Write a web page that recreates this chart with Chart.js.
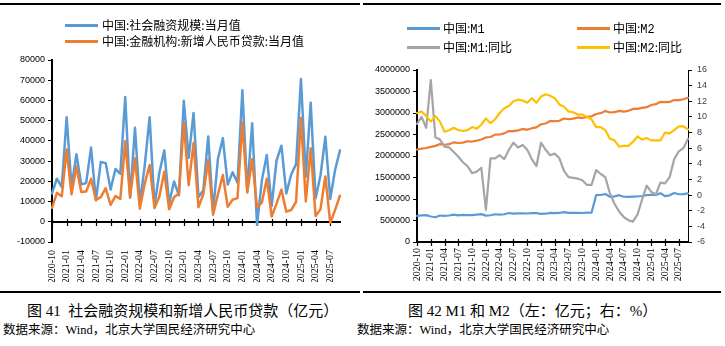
<!DOCTYPE html>
<html><head><meta charset="utf-8">
<script src="https://cdn.jsdelivr.net/npm/chart.js@4.4.1/dist/chart.umd.min.js"></script>
<style>
html,body{margin:0;padding:0;background:#fff;}
#wrap{position:relative;width:725px;height:346px;overflow:hidden;background:#fff;}
.hline{position:absolute;background:#000;}
.leg{position:absolute;font-family:"Noto Sans CJK SC",sans-serif;font-size:12px;line-height:16px;color:#000;white-space:nowrap;}
.mono{font-family:"Liberation Mono","Noto Sans CJK SC",monospace;}
.sw{position:absolute;height:3px;width:33px;}
.cap{position:absolute;font-family:"Liberation Serif","Noto Sans CJK SC",serif;font-size:15px;line-height:20px;white-space:pre;color:#000;}
.src{position:absolute;font-family:"Liberation Serif","Noto Sans CJK SC",serif;font-size:12.5px;line-height:16px;white-space:pre;color:#000;}
.box{position:absolute;top:0;height:290px;}
</style></head>
<body>
<div id="wrap">
  <div class="hline" style="left:0;top:3px;width:360px;height:2px"></div>
  <div class="hline" style="left:363px;top:3px;width:358px;height:2px"></div>

  <div class="box" style="left:0;width:360px"><canvas id="c1" width="360" height="290"></canvas></div>
  <div class="box" style="left:360px;width:365px"><canvas id="c2" width="365" height="290"></canvas></div>

  <div class="sw" style="left:65px;top:24px;background:#5B9BD5"></div>
  <div class="leg" style="left:102px;top:17px">中国:社会融资规模:当月值</div>
  <div class="sw" style="left:65px;top:40px;background:#ED7D31"></div>
  <div class="leg" style="left:102px;top:33px">中国:金融机构:新增人民币贷款:当月值</div>

  <div class="sw" style="left:407px;top:27px;background:#5B9BD5"></div>
  <div class="leg" style="left:443px;top:20px">中国:<span class="mono">M1</span></div>
  <div class="sw" style="left:577px;top:27px;background:#ED7D31"></div>
  <div class="leg" style="left:613px;top:20px">中国:<span class="mono">M2</span></div>
  <div class="sw" style="left:407px;top:46px;background:#A5A5A5"></div>
  <div class="leg" style="left:443px;top:39px">中国:<span class="mono">M1</span>:同比</div>
  <div class="sw" style="left:577px;top:46px;background:#FFC000"></div>
  <div class="leg" style="left:613px;top:39px">中国:<span class="mono">M2</span>:同比</div>

  <div class="hline" style="left:0;top:291px;width:360px;height:2px"></div>
  <div class="hline" style="left:363px;top:291px;width:358px;height:2px"></div>

  <div class="cap" style="left:27px;top:301px">图 41  社会融资规模和新增人民币贷款（亿元）</div>
  <div class="cap" style="left:408px;top:301px">图 42 M1 和 M2（左：亿元；右：%）</div>
  <div class="src" style="left:3px;top:322px">数据来源：Wind，北京大学国民经济研究中心</div>
  <div class="src" style="left:357px;top:322px">数据来源：Wind，北京大学国民经济研究中心</div>
</div>
<script>
const months = [
  '2020-10','2020-11','2020-12',
  '2021-01','2021-02','2021-03','2021-04','2021-05','2021-06','2021-07','2021-08','2021-09','2021-10','2021-11','2021-12',
  '2022-01','2022-02','2022-03','2022-04','2022-05','2022-06','2022-07','2022-08','2022-09','2022-10','2022-11','2022-12',
  '2023-01','2023-02','2023-03','2023-04','2023-05','2023-06','2023-07','2023-08','2023-09','2023-10','2023-11','2023-12',
  '2024-01','2024-02','2024-03','2024-04','2024-05','2024-06','2024-07','2024-08','2024-09','2024-10','2024-11','2024-12',
  '2025-01','2025-02','2025-03','2025-04','2025-05','2025-06','2025-07','2025-08','2025-09'
];
// 社会融资规模:当月值（亿元）
const tsf = [
  14000, 21300, 17200,
  51700, 17100, 33400, 18500, 19200, 36700, 10600, 29600, 29000, 15900, 26100, 23700,
  61700, 11900, 46500, 9100, 27900, 51700, 8000, 24300, 35300, 9100, 19900, 13100,
  59800, 31600, 53800, 12200, 15600, 42200, 5000, 31200, 41300, 18400, 24500, 19300,
  65000, 15200, 48700, -1500, 20600, 33000, 7700, 30300, 37600, 14000, 23400, 28500,
  70600, 22300, 58900, 11600, 22900, 42000, 11300, 25700, 35300
];
// 金融机构:新增人民币贷款:当月值（亿元）
const loans = [
  6900, 14300, 12600,
  35800, 13600, 27300, 14700, 15000, 21200, 10800, 12200, 16600, 8300, 12700, 11300,
  39800, 12300, 31300, 6500, 18900, 28100, 6800, 12500, 24700, 6200, 12100, 14000,
  49000, 18100, 38900, 7200, 13600, 30500, 3500, 13600, 23100, 7400, 10900, 11700,
  49200, 14500, 30900, 7300, 9500, 21300, 2600, 9000, 15900, 5000, 5800, 9900,
  51300, 10100, 36400, 2800, 6200, 22400, -500, 5900, 12900
];
// M1（亿元）
const m1 = [
  609400, 618900, 625600,
  593200, 575600, 616200, 605400, 616800, 637500, 620200, 628600, 624600, 626100, 637100, 647400,
  613100, 621700, 645100, 636100, 645200, 674700, 661800, 664500, 664500, 662300, 672500, 671700,
  655400, 657900, 678400, 669700, 675100, 695600, 678600, 680800, 678700, 674700, 681000, 680500,
  1090000, 1093000, 1117000, 1051000, 1062000, 1089000, 1052000, 1049000, 1055000, 1060000, 1070000, 1090000,
  1094500, 1094200, 1134900, 1066700, 1086200, 1139500, 1110600, 1112300, 1131500
];
// M2（亿元）
const m2 = [
  2149700, 2172000, 2186800,
  2213000, 2236000, 2276500, 2262100, 2275500, 2317800, 2302200, 2312300, 2342800, 2336200, 2356000, 2382900,
  2431000, 2441500, 2497700, 2499700, 2526500, 2581500, 2578100, 2595100, 2626600, 2612100, 2647000, 2664300,
  2738100, 2755200, 2814600, 2808500, 2820500, 2873000, 2854200, 2869300, 2896700, 2882300, 2910400, 2922700,
  2976300, 2995600, 3048000, 3011900, 3018500, 3050200, 3033100, 3050500, 3094800, 3097100, 3119600, 3135300,
  3185200, 3205200, 3260600, 3251700, 3257800, 3302900, 3299400, 3319800, 3353800
];
// M1 同比（%）
const m1yoy = [
  9.1, 10.0, 8.6,
  14.7, 7.4, 7.1, 6.2, 6.1, 5.5, 4.9, 4.2, 3.7, 2.8, 3.0, 3.5,
  -1.9, 4.7, 4.7, 5.1, 4.6, 5.8, 6.7, 6.1, 6.4, 5.8, 4.6, 3.7,
  6.7, 5.8, 5.1, 5.3, 4.7, 3.1, 2.3, 2.2, 2.1, 1.9, 1.3, 1.3,
  3.2, 2.7, 2.3, 0.2, -1.1, -2.1, -2.8, -3.2, -3.4, -2.5, -0.6, 1.2,
  0.4, 0.1, 1.6, 1.5, 2.3, 4.6, 5.6, 6.0, 7.2
];
// M2 同比（%）
const m2yoy = [
  10.5, 10.7, 10.1,
  9.4, 10.1, 9.4, 8.1, 8.3, 8.6, 8.3, 8.2, 8.3, 8.7, 8.5, 9.0,
  9.8, 9.2, 9.7, 10.5, 11.1, 11.4, 12.0, 12.2, 12.1, 11.8, 12.4, 11.8,
  12.6, 12.9, 12.7, 12.4, 11.6, 11.3, 10.7, 10.6, 10.3, 10.3, 10.0, 9.7,
  8.7, 8.7, 8.3, 7.2, 7.0, 6.2, 6.3, 6.3, 6.8, 7.5, 7.1, 7.3,
  7.0, 7.0, 7.0, 8.0, 7.9, 8.3, 8.8, 8.8, 8.4
];

const axisLine = {
  id: 'axisLine',
  beforeDatasetsDraw(chart, args, opts) {
    const xs = chart.scales.x, ys = chart.scales.y;
    const py = Math.round(ys.getPixelForValue(opts.value));
    const ctx = chart.ctx, a = chart.chartArea;
    ctx.save();
    ctx.strokeStyle = '#000';
    ctx.lineWidth = 2;
    ctx.beginPath(); ctx.moveTo(a.left - 1, py); ctx.lineTo(a.right + 1, py); ctx.stroke();
    ctx.lineWidth = 1.2;
    for (let i = 0; i < chart.data.labels.length; i += 3) {
      const px = Math.round(xs.getPixelForValue(i)) + 0.5;
      ctx.beginPath(); ctx.moveTo(px, py - 3); ctx.lineTo(px, py + 4); ctx.stroke();
    }
    ctx.restore();
  }
};

const xTickCb = function(val, idx) { return idx % 3 === 0 ? months[idx] : ''; };
const yTickCb = function(v) { return String(v); };
const xFont = { family: 'Liberation Serif', size: 10 };
const yFont = { family: 'Liberation Sans', size: 9 };

new Chart(document.getElementById('c1'), {
  type: 'line',
  data: {
    labels: months,
    datasets: [
      { label: '中国:社会融资规模:当月值', data: tsf, borderColor: '#5B9BD5', borderWidth: 2.5, order: 2 },
      { label: '中国:金融机构:新增人民币贷款:当月值', data: loans, borderColor: '#ED7D31', borderWidth: 2.5, order: 1 }
    ]
  },
  options: {
    responsive: false, animation: false, devicePixelRatio: 1,
    layout: { padding: { left: 0, right: 9, top: 60, bottom: 8 } },
    elements: { point: { radius: 0 }, line: { tension: 0, borderJoinStyle: 'round', borderCapStyle: 'round' } },
    plugins: { legend: { display: false }, tooltip: { enabled: false }, axisLine: { value: 0 } },
    scales: {
      x: {
        offset: false,
        grid: { display: false, drawTicks: false },
        border: { display: false },
        ticks: { autoSkip: false, maxRotation: 90, minRotation: 90, padding: 8, color: '#000', font: xFont, callback: xTickCb },
        afterFit: s => { s.height = 40; }
      },
      y: {
        min: -10000, max: 80000,
        grid: { display: true, drawOnChartArea: false, drawTicks: true, tickLength: 4, color: '#000', lineWidth: 1 },
        border: { display: true, color: '#000', width: 2 },
        ticks: { stepSize: 10000, padding: 3, color: '#000', font: yFont, callback: yTickCb },
        afterFit: s => { s.width = 52; }
      }
    }
  },
  plugins: [axisLine]
});

new Chart(document.getElementById('c2'), {
  type: 'line',
  data: {
    labels: months,
    datasets: [
      { label: '中国:M1', data: m1, borderColor: '#5B9BD5', borderWidth: 2.2, yAxisID: 'y', order: 4 },
      { label: '中国:M2', data: m2, borderColor: '#ED7D31', borderWidth: 2.2, yAxisID: 'y', order: 3 },
      { label: '中国:M1:同比', data: m1yoy, borderColor: '#A5A5A5', borderWidth: 2.2, yAxisID: 'y1', order: 2 },
      { label: '中国:M2:同比', data: m2yoy, borderColor: '#FFC000', borderWidth: 2.2, yAxisID: 'y1', order: 1 }
    ]
  },
  options: {
    responsive: false, animation: false, devicePixelRatio: 1,
    layout: { padding: { left: 0, right: 12, top: 70, bottom: 8 } },
    elements: { point: { radius: 0 }, line: { tension: 0, borderJoinStyle: 'round', borderCapStyle: 'round' } },
    plugins: { legend: { display: false }, tooltip: { enabled: false }, axisLine: { value: 0 } },
    scales: {
      x: {
        offset: false,
        grid: { display: false, drawTicks: false },
        border: { display: false },
        ticks: { autoSkip: false, maxRotation: 90, minRotation: 90, padding: 6, color: '#000', font: xFont, callback: xTickCb },
        afterFit: s => { s.height = 40; }
      },
      y: {
        position: 'left', min: 0, max: 4000000,
        grid: { display: true, drawOnChartArea: false, drawTicks: true, tickLength: 4, color: '#000', lineWidth: 1 },
        border: { display: true, color: '#000', width: 2 },
        ticks: { stepSize: 500000, padding: 3, color: '#000', font: yFont, callback: yTickCb },
        afterFit: s => { s.width = 57; }
      },
      y1: {
        position: 'right', min: -6, max: 16,
        grid: { display: true, drawOnChartArea: false, drawTicks: true, tickLength: 4, color: '#000', lineWidth: 1 },
        border: { display: true, color: '#000', width: 1 },
        ticks: { stepSize: 2, padding: 5, color: '#404040', font: yFont, callback: yTickCb },
        afterFit: s => { s.width = 25; }
      }
    }
  },
  plugins: [axisLine]
});
</script>
</body></html>
